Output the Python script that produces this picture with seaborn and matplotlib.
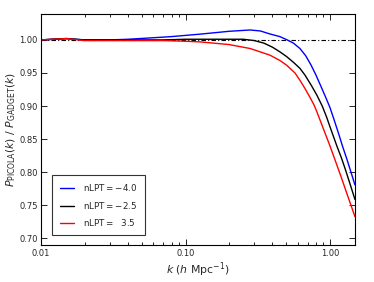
import matplotlib
matplotlib.use("Agg")
import matplotlib.pyplot as plt
import seaborn as sns
import pandas as pd
import numpy as np
from matplotlib.ticker import FixedLocator, FixedFormatter, LogLocator, NullFormatter, NullLocator

k_blue = [0.01, 0.012, 0.015, 0.02, 0.03, 0.04, 0.057, 0.08, 0.126, 0.2, 0.28, 0.33, 0.384, 0.45, 0.506,
          0.56, 0.62, 0.68, 0.74, 0.8, 0.87, 0.94, 1.0, 1.07, 1.15, 1.22, 1.31, 1.40, 1.49]
v_blue = [1.0, 1.001, 1.002, 1.0, 1.0, 1.001, 1.003, 1.005, 1.0087, 1.013, 1.015, 1.0135, 1.009, 1.005, 1.0,
          0.995, 0.987, 0.976, 0.962, 0.947, 0.929, 0.912, 0.898, 0.879, 0.858, 0.840, 0.820, 0.800, 0.781]

k_black = [0.01, 0.012, 0.015, 0.02, 0.03, 0.05, 0.07, 0.1, 0.15, 0.2, 0.25, 0.3, 0.35, 0.4, 0.45, 0.5,
           0.56, 0.62, 0.671, 0.74, 0.81, 0.885, 0.95, 1.0, 1.12, 1.2, 1.276, 1.38, 1.49]
v_black = [1.0, 1.001, 1.002, 1.0, 1.0, 1.0, 1.0, 1.001, 1.001, 1.001, 1.001, 0.999, 0.995, 0.989, 0.982, 0.975,
           0.966, 0.957, 0.947, 0.932, 0.917, 0.90, 0.883, 0.869, 0.839, 0.822, 0.805, 0.782, 0.759]

k_red = [0.01, 0.012, 0.015, 0.02, 0.03, 0.05, 0.07, 0.1, 0.126, 0.2, 0.28, 0.384, 0.45, 0.5,
         0.573, 0.62, 0.67, 0.72, 0.775, 0.81, 0.9, 1.0, 1.1, 1.2, 1.3, 1.4, 1.49]
v_red = [1.0, 1.001, 1.002, 0.999, 0.999, 0.999, 0.999, 0.998, 0.997, 0.993, 0.987, 0.977, 0.969, 0.962,
         0.95, 0.939, 0.927, 0.915, 0.902, 0.892, 0.866, 0.84, 0.815, 0.792, 0.77, 0.75, 0.733]

labels = ["nLPT$=-4.0$", "nLPT$=-2.5$", "nLPT$=\\ \\ 3.5$"]
colors = ["blue", "black", "red"]

xticks = [0.01, 0.1, 1.0]
xticklabels = ["0.01", "0.10", "1.00"]
yticks = [0.70, 0.75, 0.80, 0.85, 0.90, 0.95, 1.00]

frames = []
for kk, vv, lab in zip([k_blue, k_black, k_red], [v_blue, v_black, v_red], labels):
    frames.append(pd.DataFrame({"k": kk, "ratio": vv, "model": lab}))
df = pd.concat(frames, ignore_index=True)

sns.set_style("ticks")
plt.rcParams["font.family"] = ["DejaVu Sans"]
plt.rcParams["mathtext.fontset"] = "dejavusans"

fig = plt.figure(figsize=(3.74, 2.82), dpi=100)
ax = fig.add_axes([0.110, 0.131, 0.839, 0.819])

sns.lineplot(data=df, x="k", y="ratio", hue="model", palette=dict(zip(labels, colors)),
             hue_order=labels, linewidth=1.0, ax=ax, sort=True, estimator=None)

ax.axhline(1.0, color="black", linewidth=0.8, linestyle=(0, (4, 2, 1, 2)), zorder=0)

ax.set_xscale("log")
ax.set_xlim(0.01, 1.49)
ax.set_ylim(0.69, 1.039)
ax.xaxis.set_major_locator(FixedLocator(xticks))
ax.xaxis.set_major_formatter(FixedFormatter(xticklabels))
ax.xaxis.set_minor_locator(LogLocator(base=10, subs=np.arange(2, 10) * 1.0))
ax.xaxis.set_minor_formatter(NullFormatter())
ax.set_yticks(yticks)
ax.set_yticklabels([f"{t:.2f}" for t in yticks])
ax.yaxis.set_minor_locator(NullLocator())

ax.tick_params(which="both", direction="in", top=True, right=True, labelsize=6.0, width=0.6, color="black")
ax.tick_params(which="major", length=4.3, pad=2.5)
ax.tick_params(which="minor", length=2.3)
for s in ax.spines.values():
    s.set_linewidth(0.8)
    s.set_color("black")

ax.set_xlabel("$k$ ($h$ Mpc$^{-1}$)", fontsize=7.8, labelpad=2)
ax.set_ylabel("$P_{\\rm PICOLA}(k)\\ /\\ P_{\\rm GADGET}(k)$", fontsize=7.8, labelpad=1.2)

leg = ax.legend(loc="lower left", bbox_to_anchor=(0.035, 0.043), borderaxespad=0,
                fontsize=6.3, frameon=True, fancybox=False, handlelength=1.7,
                handletextpad=1.0, borderpad=0.85, labelspacing=0.7, title=None)
leg.get_frame().set_edgecolor("black")
leg.get_frame().set_linewidth(0.8)

fig.savefig("out.png", dpi=100)
